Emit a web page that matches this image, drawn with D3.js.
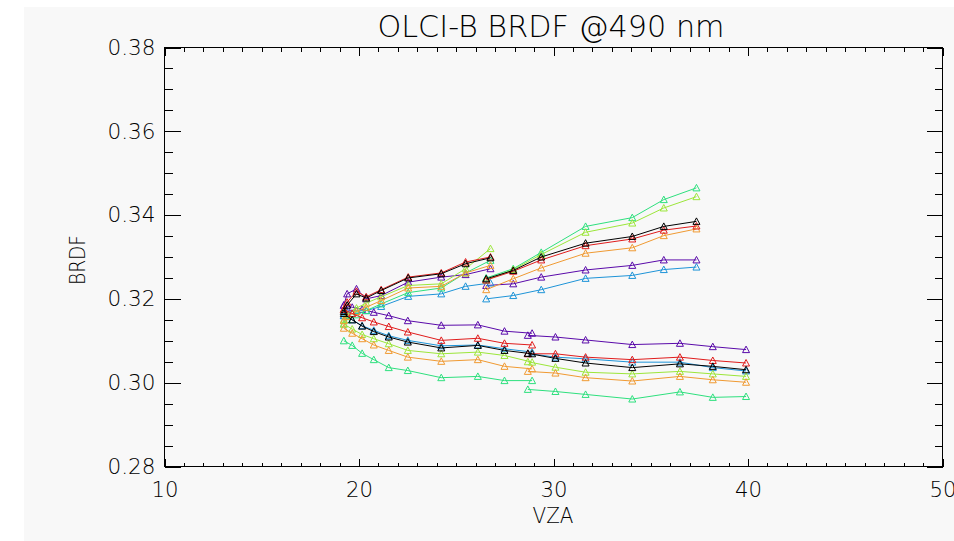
<!DOCTYPE html>
<html>
<head>
<meta charset="utf-8">
<script src="https://cdn.jsdelivr.net/npm/d3@7"></script>
<style>
  body { margin: 0; background: #fff; }
  svg text { font-family: "DejaVu Sans", Roboto, sans-serif; font-weight: 200; fill: #000; }
</style>
</head>
<body>
<svg id="chart" width="954" height="541"></svg>
<script>
// VZA positions (shared by every series)
const xUp1 = [19.22, 19.39, 19.87, 20.37, 21.14, 22.53, 24.23, 25.48, 26.76];
const xUp2 = [26.54, 27.93, 29.37, 31.65, 34.05, 35.67, 37.35];
const xLo1 = [19.22, 19.65, 20.16, 20.76, 21.53, 22.51, 24.23, 26.11, 27.48, 28.90];
const xLo2 = [28.68, 30.10, 31.65, 34.05, 36.50, 38.19, 39.90];

const seriesColors = ['#5a0aaa', '#1e94d8', '#2ee07e', '#9ce63a', '#f09a32', '#e01c1c', '#000000'];

// BRDF values, one row per colour (same order as seriesColors)
const upper1 = [
  [0.3185, 0.3212, 0.3224, 0.3200, 0.3208, 0.3240, 0.3252, 0.3258, 0.3272],
  [0.3160, 0.3168, 0.3172, 0.3172, 0.3182, 0.3206, 0.3212, 0.3230, 0.3238],
  [0.3140, 0.3150, 0.3162, 0.3172, 0.3188, 0.3215, 0.3226, 0.3262, 0.3292],
  [0.3150, 0.3162, 0.3178, 0.3190, 0.3205, 0.3232, 0.3236, 0.3272, 0.3320],
  [0.3148, 0.3158, 0.3170, 0.3180, 0.3196, 0.3226, 0.3230, 0.3262, 0.3280],
  [0.3175, 0.3192, 0.3218, 0.3205, 0.3222, 0.3252, 0.3262, 0.3288, 0.3300],
  [0.3170, 0.3185, 0.3212, 0.3202, 0.3220, 0.3250, 0.3260, 0.3284, 0.3298]
];
const upper2 = [
  [0.3232, 0.3236, 0.3252, 0.3269, 0.3280, 0.3293, 0.3293],
  [0.3200, 0.3208, 0.3222, 0.3249, 0.3256, 0.3270, 0.3276],
  [0.3250, 0.3272, 0.3311, 0.3373, 0.3394, 0.3437, 0.3465],
  [0.3245, 0.3270, 0.3306, 0.3359, 0.3381, 0.3417, 0.3444],
  [0.3222, 0.3248, 0.3274, 0.3309, 0.3322, 0.3351, 0.3367],
  [0.3245, 0.3266, 0.3293, 0.3327, 0.3343, 0.3364, 0.3374],
  [0.3248, 0.3268, 0.3300, 0.3333, 0.3349, 0.3373, 0.3385]
];
const lower1 = [
  [0.3185, 0.3180, 0.3175, 0.3168, 0.3160, 0.3148, 0.3137, 0.3138, 0.3123, 0.3118],
  [0.3160, 0.3150, 0.3136, 0.3125, 0.3112, 0.3101, 0.3088, 0.3090, 0.3081, 0.3073],
  [0.3100, 0.3089, 0.3070, 0.3055, 0.3036, 0.3029, 0.3012, 0.3015, 0.3005, 0.3005],
  [0.3140, 0.3128, 0.3115, 0.3105, 0.3093, 0.3077, 0.3069, 0.3073, 0.3065, 0.3049],
  [0.3130, 0.3118, 0.3105, 0.3090, 0.3077, 0.3061, 0.3051, 0.3055, 0.3039, 0.3033],
  [0.3175, 0.3165, 0.3155, 0.3145, 0.3134, 0.3121, 0.3101, 0.3106, 0.3094, 0.3090],
  [0.3165, 0.3150, 0.3135, 0.3122, 0.3109, 0.3097, 0.3083, 0.3089, 0.3077, 0.3069]
];
const lower2 = [
  [0.3113, 0.3109, 0.3102, 0.3091, 0.3094, 0.3086, 0.3079],
  [0.3070, 0.3061, 0.3057, 0.3049, 0.3049, 0.3036, 0.3028],
  [0.2984, 0.2979, 0.2972, 0.2961, 0.2978, 0.2965, 0.2967],
  [0.3050, 0.3037, 0.3025, 0.3021, 0.3027, 0.3021, 0.3015],
  [0.3027, 0.3023, 0.3012, 0.3004, 0.3015, 0.3007, 0.3001],
  [0.3069, 0.3069, 0.3061, 0.3055, 0.3061, 0.3053, 0.3047],
  [0.3070, 0.3058, 0.3047, 0.3036, 0.3045, 0.3039, 0.3031]
];

const xMajor = [10, 20, 30, 40, 50];
const xMinor = d3.range(10, 51, 1);
const yMajor = [0.28, 0.30, 0.32, 0.34, 0.36, 0.38];
const yMinor = d3.range(0, 21).map(i => 0.28 + i * 0.005);

const svg = d3.select('#chart');

// grey canvas
svg.append('rect').attr('x', 24).attr('y', 7).attr('width', 930).attr('height', 534).attr('fill', '#f8f8f8');

const pLeft = 164.5, pRight = 942.5, pTop = 47.5, pBottom = 466.5;
const x = d3.scaleLinear().domain([10, 50]).range([pLeft, pRight]);
const y = d3.scaleLinear().domain([0.28, 0.38]).range([pBottom, pTop]);

// ticks (inward, IDL style)
function ticks(axis, tr) {
  const g = svg.append('g').attr('transform', tr).call(axis);
  g.select('.domain').remove();
  g.selectAll('line').attr('shape-rendering', 'crispEdges');
  return g;
}
ticks(d3.axisBottom(x).tickValues(xMinor).tickSize(-4).tickFormat(''), `translate(0,${pBottom})`);
ticks(d3.axisTop(x).tickValues(xMinor).tickSize(-4).tickFormat(''), `translate(0,${pTop})`);
ticks(d3.axisTop(x).tickValues(xMajor).tickSize(-8).tickFormat(''), `translate(0,${pTop})`);
const xg = ticks(d3.axisBottom(x).tickValues(xMajor).tickSize(-8).tickPadding(16).tickFormat(d3.format('d')), `translate(0,${pBottom})`);
ticks(d3.axisLeft(y).tickValues(yMinor).tickSize(-8).tickFormat(''), `translate(${pLeft},0)`);
ticks(d3.axisRight(y).tickValues(yMinor).tickSize(-8).tickFormat(''), `translate(${pRight},0)`);
ticks(d3.axisRight(y).tickValues(yMajor).tickSize(-16).tickFormat(''), `translate(${pRight},0)`);
const yg = ticks(d3.axisLeft(y).tickValues(yMajor).tickSize(-16).tickPadding(9).tickFormat(d3.format('.2f')), `translate(${pLeft},0)`);

xg.selectAll('text').attr('font-size', 21).attr('font-family', null)
  .attr('textLength', 27).attr('lengthAdjust', 'spacingAndGlyphs');
yg.selectAll('text').attr('font-size', 21).attr('font-family', null)
  .attr('textLength', 48).attr('lengthAdjust', 'spacingAndGlyphs');

// frame
svg.append('rect')
  .attr('x', pLeft).attr('y', pTop).attr('width', pRight - pLeft).attr('height', pBottom - pTop)
  .attr('fill', 'none').attr('stroke', '#000').attr('shape-rendering', 'crispEdges');

// titles
svg.append('text').attr('x', 551).attr('y', 37).attr('text-anchor', 'middle')
  .attr('font-size', 30).attr('textLength', 347).attr('lengthAdjust', 'spacingAndGlyphs')
  .text('OLCI-B BRDF @490 nm');
svg.append('text').attr('x', 553).attr('y', 523).attr('text-anchor', 'middle')
  .attr('font-size', 22).attr('textLength', 41).attr('lengthAdjust', 'spacingAndGlyphs')
  .text('VZA');
svg.append('text').attr('transform', 'translate(85,260) rotate(-90)').attr('text-anchor', 'middle')
  .attr('font-size', 22).attr('textLength', 50).attr('lengthAdjust', 'spacingAndGlyphs')
  .text('BRDF');

// series
const line = d3.line().x(d => x(d[0])).y(d => y(d[1]));
const tri = 'M-3.5,3L0,-3.5L3.5,3Z';
const plot = svg.append('g');

const segments = [[xUp1, upper1], [xUp2, upper2], [xLo1, lower1], [xLo2, lower2]];
seriesColors.forEach((col, i) => {
  segments.forEach(([xs, vals]) => {
    const pts = xs.map((v, j) => [v, vals[i][j]]);
    plot.append('path').attr('d', line(pts)).attr('fill', 'none')
      .attr('stroke', col).attr('stroke-width', 1);
    plot.selectAll(null).data(pts).enter().append('path')
      .attr('d', tri)
      .attr('transform', d => `translate(${x(d[0])},${y(d[1])})`)
      .attr('fill', 'none').attr('stroke', col).attr('stroke-width', 1);
  });
});
</script>
</body>
</html>
